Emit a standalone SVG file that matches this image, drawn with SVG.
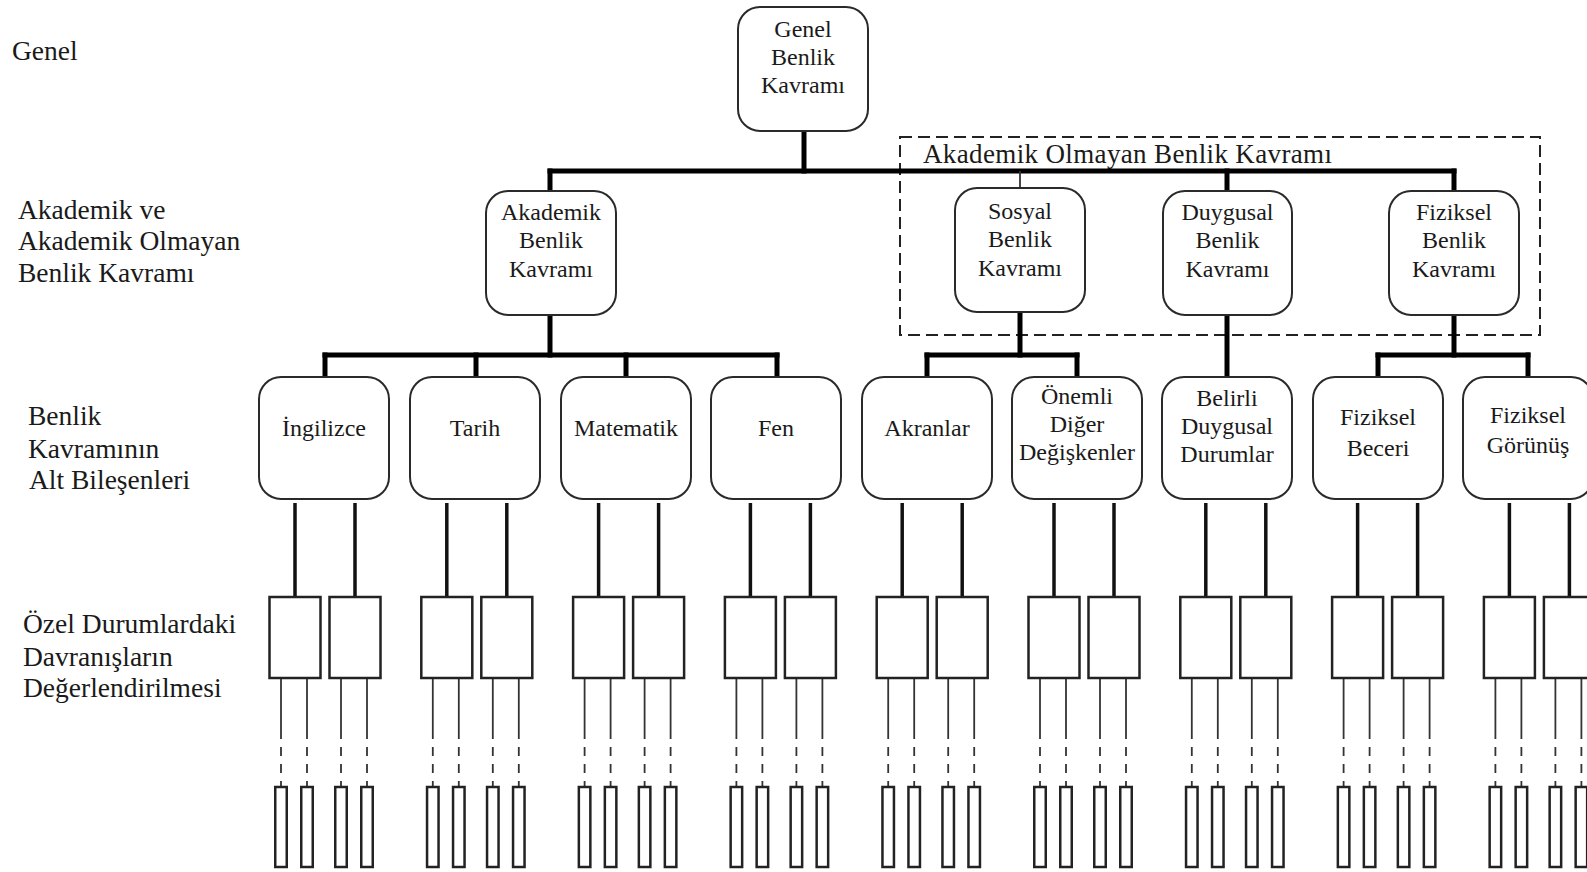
<svg xmlns="http://www.w3.org/2000/svg" xmlns:xlink="http://www.w3.org/1999/xlink" width="1587" height="872" viewBox="0 0 1587 872" font-family="'Liberation Serif', serif">
<style>
  .box { fill: #fff; stroke: #2a2a2a; stroke-width: 2; }
  .sq { fill: #fff; stroke: #222; stroke-width: 2.5; }
  .thick { stroke: #000; stroke-width: 5; fill: none; stroke-linecap: square; }
  .mid { stroke: #111; stroke-width: 3.5; fill: none; }
  .thin { stroke: #333; stroke-width: 1.8; fill: none; }
  .dash { stroke: #333; stroke-width: 1.8; fill: none; stroke-dasharray: 9 8; }
  .grp { fill: none; stroke: #222; stroke-width: 2; stroke-dasharray: 12 6; }
  text { font-family: 'Liberation Serif', serif; fill: #1a1a1a; }
  .n { font-size: 24px; text-anchor: middle; }
  .lv { font-size: 27.5px; }
</style>
<defs>
  <g id="unitNode">
    <rect class="sq" x="-25.5" y="597" width="51" height="81"/>
    <rect class="sq" x="-19.75" y="787" width="11.5" height="80"/>
    <rect class="sq" x="6.25" y="787" width="11.5" height="80"/>
  </g>
  <g id="unitLines">
    <line class="mid" x1="0" y1="503" x2="0" y2="597"/>
    <line class="thin" x1="-14" y1="679" x2="-14" y2="739"/>
    <line class="thin" x1="12" y1="679" x2="12" y2="739"/>
    <line class="dash" x1="-14" y1="747" x2="-14" y2="787"/>
    <line class="dash" x1="12" y1="747" x2="12" y2="787"/>
  </g>
</defs>

<g id="level-labels">
  <text class="lv" x="12" y="60">Genel</text>
  <text class="lv" x="18" y="219">Akademik ve</text>
  <text class="lv" x="18" y="250">Akademik Olmayan</text>
  <text class="lv" x="18" y="282">Benlik Kavramı</text>
  <text class="lv" x="28" y="425">Benlik</text>
  <text class="lv" x="28" y="458">Kavramının</text>
  <text class="lv" x="29" y="489">Alt Bileşenleri</text>
  <text class="lv" x="23" y="633">Özel Durumlardaki</text>
  <text class="lv" x="23" y="666">Davranışların</text>
  <text class="lv" x="23" y="697">Değerlendirilmesi</text>
</g>

<g id="group-akademik-olmayan">
  <rect class="grp" x="900" y="137" width="640" height="198"/>
  <text x="923" y="163" style="font-size:27px" textLength="409" lengthAdjust="spacing">Akademik Olmayan Benlik Kavramı</text>
</g>

<g id="connectors">
  <line class="thick" x1="804" y1="131" x2="804" y2="171"/>
  <line class="thick" x1="550" y1="171" x2="1454" y2="171"/>
  <line class="thick" x1="550" y1="171" x2="550" y2="191"/>
  <line class="thin" x1="1020" y1="171" x2="1020" y2="188"/>
  <line class="thick" x1="1227" y1="171" x2="1227" y2="191"/>
  <line class="thick" x1="1454" y1="171" x2="1454" y2="191"/>

  <line class="thick" x1="550" y1="315" x2="550" y2="355"/>
  <line class="thick" x1="325" y1="355" x2="777" y2="355"/>
  <line class="thick" x1="325" y1="355" x2="325" y2="377"/>
  <line class="thick" x1="476" y1="355" x2="476" y2="377"/>
  <line class="thick" x1="626" y1="355" x2="626" y2="377"/>
  <line class="thick" x1="777" y1="355" x2="777" y2="377"/>

  <line class="thick" x1="1020" y1="312" x2="1020" y2="355"/>
  <line class="thick" x1="927" y1="355" x2="1077" y2="355"/>
  <line class="thick" x1="927" y1="355" x2="927" y2="377"/>
  <line class="thick" x1="1077" y1="355" x2="1077" y2="377"/>

  <line class="thick" x1="1227" y1="315" x2="1227" y2="377"/>

  <line class="thick" x1="1454" y1="315" x2="1454" y2="355"/>
  <line class="thick" x1="1378" y1="355" x2="1528" y2="355"/>
  <line class="thick" x1="1378" y1="355" x2="1378" y2="377"/>
  <line class="thick" x1="1528" y1="355" x2="1528" y2="377"/>

  <use xlink:href="#unitLines" href="#unitLines" x="295"/>
  <use xlink:href="#unitLines" href="#unitLines" x="355"/>
  <use xlink:href="#unitLines" href="#unitLines" x="446.8"/>
  <use xlink:href="#unitLines" href="#unitLines" x="506.8"/>
  <use xlink:href="#unitLines" href="#unitLines" x="598.6"/>
  <use xlink:href="#unitLines" href="#unitLines" x="658.6"/>
  <use xlink:href="#unitLines" href="#unitLines" x="750.4"/>
  <use xlink:href="#unitLines" href="#unitLines" x="810.4"/>
  <use xlink:href="#unitLines" href="#unitLines" x="902.2"/>
  <use xlink:href="#unitLines" href="#unitLines" x="962.2"/>
  <use xlink:href="#unitLines" href="#unitLines" x="1054"/>
  <use xlink:href="#unitLines" href="#unitLines" x="1114"/>
  <use xlink:href="#unitLines" href="#unitLines" x="1205.8"/>
  <use xlink:href="#unitLines" href="#unitLines" x="1265.8"/>
  <use xlink:href="#unitLines" href="#unitLines" x="1357.6"/>
  <use xlink:href="#unitLines" href="#unitLines" x="1417.6"/>
  <use xlink:href="#unitLines" href="#unitLines" x="1509.4"/>
  <use xlink:href="#unitLines" href="#unitLines" x="1569.4"/>
</g>

<g id="node-genel">
  <rect class="box" x="738" y="7" width="130" height="124" rx="22"/>
  <text class="n" x="803" y="37">Genel</text>
  <text class="n" x="803" y="65">Benlik</text>
  <text class="n" x="803" y="93">Kavramı</text>
</g>

<g id="node-akademik">
  <rect class="box" x="486" y="191" width="130" height="124" rx="22"/>
  <text class="n" x="551" y="220">Akademik</text>
  <text class="n" x="551" y="248">Benlik</text>
  <text class="n" x="551" y="277">Kavramı</text>
</g>
<g id="node-sosyal">
  <rect class="box" x="955" y="188" width="130" height="124" rx="22"/>
  <text class="n" x="1020" y="219">Sosyal</text>
  <text class="n" x="1020" y="247">Benlik</text>
  <text class="n" x="1020" y="276">Kavramı</text>
</g>
<g id="node-duygusal">
  <rect class="box" x="1163" y="191" width="129" height="124" rx="22"/>
  <text class="n" x="1227.5" y="220">Duygusal</text>
  <text class="n" x="1227.5" y="248">Benlik</text>
  <text class="n" x="1227.5" y="277">Kavramı</text>
</g>
<g id="node-fiziksel">
  <rect class="box" x="1389" y="191" width="130" height="124" rx="22"/>
  <text class="n" x="1454" y="220">Fiziksel</text>
  <text class="n" x="1454" y="248">Benlik</text>
  <text class="n" x="1454" y="277">Kavramı</text>
</g>

<g id="node-ingilizce">
  <rect class="box" x="259" y="377" width="130" height="122" rx="22"/>
  <text class="n" x="324" y="436">İngilizce</text>
</g>
<g id="node-tarih">
  <rect class="box" x="410" y="377" width="130" height="122" rx="22"/>
  <text class="n" x="475" y="436">Tarih</text>
</g>
<g id="node-matematik">
  <rect class="box" x="561" y="377" width="130" height="122" rx="22"/>
  <text class="n" x="626" y="436">Matematik</text>
</g>
<g id="node-fen">
  <rect class="box" x="711" y="377" width="130" height="122" rx="22"/>
  <text class="n" x="776" y="436">Fen</text>
</g>
<g id="node-akranlar">
  <rect class="box" x="862" y="377" width="130" height="122" rx="22"/>
  <text class="n" x="927" y="436">Akranlar</text>
</g>
<g id="node-onemli">
  <rect class="box" x="1012" y="377" width="130" height="122" rx="22"/>
  <text class="n" x="1077" y="404">Önemli</text>
  <text class="n" x="1077" y="432">Diğer</text>
  <text class="n" x="1077" y="460">Değişkenler</text>
</g>
<g id="node-belirli">
  <rect class="box" x="1162" y="377" width="130" height="122" rx="22"/>
  <text class="n" x="1227" y="406">Belirli</text>
  <text class="n" x="1227" y="434">Duygusal</text>
  <text class="n" x="1227" y="462">Durumlar</text>
</g>
<g id="node-beceri">
  <rect class="box" x="1313" y="377" width="130" height="122" rx="22"/>
  <text class="n" x="1378" y="425">Fiziksel</text>
  <text class="n" x="1378" y="456">Beceri</text>
</g>
<g id="node-gorunus">
  <rect class="box" x="1463" y="377" width="130" height="122" rx="22"/>
  <text class="n" x="1528" y="423">Fiziksel</text>
  <text class="n" x="1528" y="453">Görünüş</text>
</g>

<g id="behaviour-nodes">
  <use id="b1" xlink:href="#unitNode" href="#unitNode" x="295"/>
  <use id="b2" xlink:href="#unitNode" href="#unitNode" x="355"/>
  <use id="b3" xlink:href="#unitNode" href="#unitNode" x="446.8"/>
  <use id="b4" xlink:href="#unitNode" href="#unitNode" x="506.8"/>
  <use id="b5" xlink:href="#unitNode" href="#unitNode" x="598.6"/>
  <use id="b6" xlink:href="#unitNode" href="#unitNode" x="658.6"/>
  <use id="b7" xlink:href="#unitNode" href="#unitNode" x="750.4"/>
  <use id="b8" xlink:href="#unitNode" href="#unitNode" x="810.4"/>
  <use id="b9" xlink:href="#unitNode" href="#unitNode" x="902.2"/>
  <use id="b10" xlink:href="#unitNode" href="#unitNode" x="962.2"/>
  <use id="b11" xlink:href="#unitNode" href="#unitNode" x="1054"/>
  <use id="b12" xlink:href="#unitNode" href="#unitNode" x="1114"/>
  <use id="b13" xlink:href="#unitNode" href="#unitNode" x="1205.8"/>
  <use id="b14" xlink:href="#unitNode" href="#unitNode" x="1265.8"/>
  <use id="b15" xlink:href="#unitNode" href="#unitNode" x="1357.6"/>
  <use id="b16" xlink:href="#unitNode" href="#unitNode" x="1417.6"/>
  <use id="b17" xlink:href="#unitNode" href="#unitNode" x="1509.4"/>
  <use id="b18" xlink:href="#unitNode" href="#unitNode" x="1569.4"/>
</g>
</svg>
